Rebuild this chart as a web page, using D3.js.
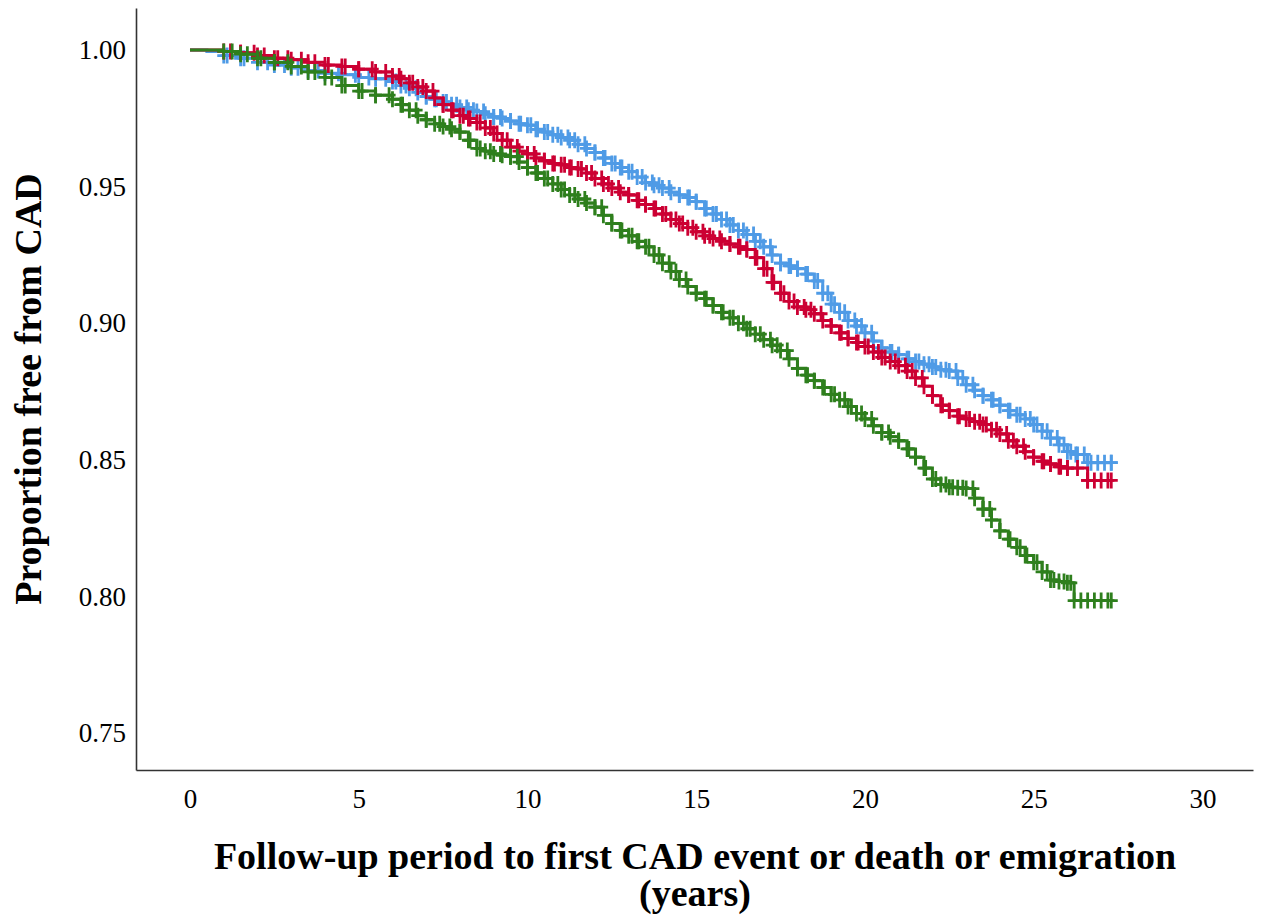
<!DOCTYPE html>
<html>
<head>
<meta charset="utf-8">
<script src="https://cdn.jsdelivr.net/npm/d3@7"></script>
<style>
  body { margin: 0; background: #fff; }
  svg text { font-family: "Liberation Serif", "Times New Roman", serif; fill: #000; }
</style>
</head>
<body>
<div id="chart"></div>
<script>
// survival curves, [years, proportion free from CAD]
var blueCurve = [
  [0, 1.000], [0.5, 0.9995], [1, 0.998], [1.5, 0.997], [2, 0.9955], [2.5, 0.9945], [3, 0.9935],
  [3.5, 0.9925], [4, 0.9915], [4.5, 0.991], [5, 0.990], [5.5, 0.9895],
  [6, 0.9885], [6.25, 0.987], [6.5, 0.986], [6.75, 0.9845], [7, 0.983], [7.25, 0.982], [7.5, 0.981],
  [7.75, 0.980], [8, 0.979], [8.25, 0.978], [8.5, 0.9775], [8.75, 0.9765], [9, 0.9755], [9.25, 0.975],
  [9.5, 0.974], [9.75, 0.973], [10, 0.9725], [10.25, 0.971], [10.5, 0.970], [10.75, 0.969], [11, 0.968],
  [11.25, 0.967], [11.5, 0.9655], [11.75, 0.964], [12, 0.9625], [12.25, 0.9605], [12.5, 0.9585],
  [12.75, 0.957], [13, 0.9555], [13.25, 0.9535], [13.5, 0.9515], [13.75, 0.9505], [14, 0.9495],
  [14.25, 0.948], [14.5, 0.947], [14.75, 0.946], [15, 0.9445], [15.25, 0.942], [15.5, 0.940],
  [15.75, 0.938], [16, 0.936], [16.25, 0.934], [16.5, 0.9325], [16.75, 0.930], [17, 0.928],
  [17.25, 0.925], [17.5, 0.922], [17.75, 0.921], [18, 0.920], [18.25, 0.918], [18.5, 0.9155],
  [18.75, 0.911], [19, 0.907], [19.25, 0.904], [19.5, 0.901], [19.75, 0.899], [20, 0.8965],
  [20.25, 0.8935], [20.5, 0.891], [20.75, 0.8895], [21, 0.8885], [21.25, 0.887], [21.5, 0.886],
  [21.75, 0.885], [22, 0.884], [22.25, 0.883], [22.5, 0.8825], [22.75, 0.880], [23, 0.8775],
  [23.25, 0.8755], [23.5, 0.8735], [23.75, 0.872], [24, 0.870], [24.25, 0.868], [24.5, 0.8665],
  [24.75, 0.865], [25, 0.863], [25.25, 0.8605], [25.5, 0.858], [25.75, 0.8555], [26, 0.853],
  [26.25, 0.852], [26.6, 0.849], [27.3, 0.849]
];
var redCurve = [
  [0, 1.000], [0.5, 1.000], [1, 0.9995], [1.5, 0.999], [2, 0.998], [2.5, 0.997], [3, 0.9965],
  [3.5, 0.9955], [4, 0.9945], [4.5, 0.994], [5, 0.993], [5.5, 0.992],
  [6, 0.9905], [6.25, 0.9895], [6.5, 0.988], [6.75, 0.9865], [7, 0.985], [7.25, 0.9825], [7.5, 0.980],
  [7.75, 0.978], [8, 0.976], [8.25, 0.975], [8.5, 0.9735], [8.75, 0.9715], [9, 0.9695], [9.25, 0.967],
  [9.5, 0.9645], [9.75, 0.963], [10, 0.962], [10.25, 0.9605], [10.5, 0.9595], [10.75, 0.9585],
  [11, 0.958], [11.25, 0.957], [11.5, 0.9565], [11.75, 0.955], [12, 0.953], [12.25, 0.951],
  [12.5, 0.9495], [12.75, 0.948], [13, 0.947], [13.25, 0.945], [13.5, 0.9435], [13.75, 0.942],
  [14, 0.940], [14.25, 0.938], [14.5, 0.9365], [14.75, 0.935], [15, 0.9335], [15.25, 0.932],
  [15.5, 0.931], [15.75, 0.930], [16, 0.929], [16.25, 0.928], [16.5, 0.927], [16.75, 0.924],
  [17, 0.920], [17.25, 0.915], [17.5, 0.911], [17.75, 0.908], [18, 0.906], [18.25, 0.905],
  [18.5, 0.9035], [18.75, 0.901], [19, 0.899], [19.25, 0.8965], [19.5, 0.8945], [19.75, 0.893],
  [20, 0.8915], [20.25, 0.8895], [20.5, 0.8875], [20.75, 0.886], [21, 0.8845], [21.25, 0.8825],
  [21.5, 0.880], [21.75, 0.877], [22, 0.8735], [22.25, 0.870], [22.5, 0.868], [22.75, 0.866],
  [23, 0.865], [23.25, 0.864], [23.5, 0.863], [23.75, 0.861], [24, 0.8595], [24.25, 0.857],
  [24.5, 0.855], [24.75, 0.853], [25, 0.851], [25.25, 0.8495], [25.5, 0.8485], [25.75, 0.8475],
  [26, 0.847], [26.6, 0.8425], [27.3, 0.8425]
];
var greenCurve = [
  [0, 1.000], [0.5, 1.000], [1, 0.9995], [1.5, 0.9985], [2, 0.997], [2.5, 0.9955], [3, 0.994],
  [3.5, 0.992], [4, 0.990], [4.5, 0.987], [5, 0.985], [5.5, 0.9835],
  [6, 0.982], [6.25, 0.980], [6.5, 0.978], [6.75, 0.976], [7, 0.9745], [7.25, 0.973], [7.5, 0.972],
  [7.75, 0.971], [8, 0.970], [8.25, 0.967], [8.5, 0.964], [8.75, 0.963], [9, 0.962], [9.25, 0.9615],
  [9.5, 0.961], [9.75, 0.959], [10, 0.957], [10.25, 0.955], [10.5, 0.953], [10.75, 0.951], [11, 0.949],
  [11.25, 0.947], [11.5, 0.9455], [11.75, 0.944], [12, 0.9425], [12.25, 0.9395], [12.5, 0.9365],
  [12.75, 0.934], [13, 0.932], [13.25, 0.930], [13.5, 0.928], [13.75, 0.925], [14, 0.922],
  [14.25, 0.919], [14.5, 0.916], [14.75, 0.9135], [15, 0.911], [15.25, 0.909], [15.5, 0.9065],
  [15.75, 0.904], [16, 0.902], [16.25, 0.900], [16.5, 0.898], [16.75, 0.896], [17, 0.894],
  [17.25, 0.892], [17.5, 0.890], [17.75, 0.887], [18, 0.8835], [18.25, 0.881], [18.5, 0.879],
  [18.75, 0.8765], [19, 0.874], [19.25, 0.872], [19.5, 0.8695], [19.75, 0.867], [20, 0.865],
  [20.25, 0.8625], [20.5, 0.860], [20.75, 0.8585], [21, 0.857], [21.25, 0.854], [21.5, 0.851],
  [21.75, 0.847], [22, 0.843], [22.25, 0.841], [22.5, 0.840], [22.75, 0.8398], [23, 0.8395],
  [23.25, 0.836], [23.5, 0.832], [23.75, 0.828], [24, 0.824], [24.25, 0.821], [24.5, 0.818],
  [24.75, 0.815], [25, 0.8125], [25.25, 0.809], [25.5, 0.806], [25.75, 0.8055], [26, 0.805],
  [26.2, 0.7985], [27.3, 0.7985]
];

// censored times (the + marks)
var blueCensor = [1.1, 1.6, 2.3, 2.8, 3.2, 3.8, 4.4, 4.9, 5.3, 5.8, 6.1, 6.4, 6.7, 7.0, 7.3, 7.6,
  7.9, 8.2, 8.4, 8.7, 9.0, 9.2, 9.5, 9.8, 10.1, 10.3, 10.6, 10.9, 11.2, 11.4, 11.7, 12.0, 12.3,
  12.6, 12.8, 13.1, 13.4, 13.7, 13.9, 14.2, 14.5, 14.8, 15.0, 15.3, 15.6, 15.9, 16.1, 16.4,
  16.7, 16.9, 17.2, 17.5, 17.8, 18.0, 18.3, 18.6, 18.9, 19.1, 19.4, 19.7, 19.9, 20.2, 20.5,
  20.8, 21.0, 21.3, 21.6, 21.9, 22.1, 22.4, 22.7, 22.9, 23.2, 23.5, 23.8, 24.0, 24.3, 24.6,
  24.9, 25.1, 25.4, 25.7, 25.9, 26.1, 26.3, 26.5, 26.7, 26.9, 27.1, 27.3];
var redCensor = [1.2, 1.5, 1.9, 2.2, 2.6, 2.9, 3.3, 3.7, 4.1, 4.6, 5.0, 5.4, 5.8, 6.2, 6.6, 6.9,
  7.2, 7.5, 7.8, 8.1, 8.3, 8.6, 8.9, 9.1, 9.4, 9.7, 10.0, 10.2, 10.5, 10.8, 11.1, 11.3, 11.6,
  11.9, 12.2, 12.4, 12.7, 13.0, 13.3, 13.5, 13.8, 14.1, 14.4, 14.6, 14.9, 15.2, 15.4, 15.7,
  16.0, 16.3, 16.5, 16.8, 17.1, 17.3, 17.6, 17.9, 18.2, 18.4, 18.7, 19.0, 19.3, 19.5, 19.8,
  20.1, 20.4, 20.6, 20.9, 21.2, 21.4, 21.7, 22.0, 22.3, 22.5, 22.8, 23.1, 23.4, 23.6, 23.9,
  24.2, 24.4, 24.7, 25.0, 25.3, 25.5, 25.8, 26.0, 26.3, 26.6, 26.8, 27.0, 27.2];
var greenCensor = [1.25, 1.7, 2.1, 2.5, 2.9, 3.3, 3.7, 4.2, 4.6, 5.1, 5.5, 5.9, 6.3, 6.7, 7.0,
  7.4, 7.7, 8.0, 8.3, 8.6, 8.9, 9.2, 9.5, 9.7, 10.0, 10.3, 10.6, 10.9, 11.1, 11.4, 11.7, 12.0,
  12.2, 12.5, 12.8, 13.1, 13.3, 13.6, 13.9, 14.2, 14.4, 14.7, 15.0, 15.3, 15.5, 15.8, 16.1,
  16.4, 16.6, 16.9, 17.2, 17.4, 17.7, 18.0, 18.3, 18.5, 18.8, 19.1, 19.4, 19.6, 19.9, 20.2,
  20.5, 20.7, 21.0, 21.3, 21.5, 21.8, 22.1, 22.4, 22.6, 22.9, 23.2, 23.5, 23.7, 24.0, 24.3,
  24.6, 24.8, 25.1, 25.4, 25.6, 25.9, 26.1, 26.4, 26.6, 26.8, 27.0, 27.2];

var xTicks = [0, 5, 10, 15, 20, 25, 30];
var yTicks = [0.75, 0.80, 0.85, 0.90, 0.95, 1.00];

var series = [
  { name: "blue", curve: blueCurve, censor: blueCensor, color: "#4f9be6" },
  { name: "red", curve: redCurve, censor: redCensor, color: "#cc0033" },
  { name: "green", curve: greenCurve, censor: greenCensor, color: "#2e7f1d" }
];

var svgWidth = 1264;
var svgHeight = 920;

var svg = d3.select("#chart")
  .append("svg")
  .attr("width", svgWidth)
  .attr("height", svgHeight);

var xScale = d3.scaleLinear().domain([-1.6, 31.5]).range([136, 1253]);
var yScale = d3.scaleLinear().domain([0.7365, 1.0154]).range([770, 8]);

// axes: only the lines and labels, no tick marks
var xAxis = svg.append("g")
  .attr("transform", "translate(0,770)")
  .call(d3.axisBottom(xScale).tickValues(xTicks).tickSize(0).tickPadding(19).tickSizeOuter(0));
var yAxis = svg.append("g")
  .attr("transform", "translate(136,0)")
  .call(d3.axisLeft(yScale).tickValues(yTicks).tickFormat(d3.format(".2f")).tickSize(0).tickPadding(10).tickSizeOuter(0));

[xAxis, yAxis].forEach(function(ax) {
  ax.selectAll("text").style("font-size", "27px").style("font-family", "Liberation Serif");
  ax.select(".domain").attr("stroke", "#333").attr("stroke-width", 1.6);
});

// step value at time t
function survAt(curve, t) {
  var v = curve[0][1];
  curve.forEach(function(p) { if (p[0] <= t) v = p[1]; });
  return v;
}

var line = d3.line()
  .x(d => xScale(d[0]))
  .y(d => yScale(d[1]))
  .curve(d3.curveStepAfter);

var plot = svg.append("g");

series.forEach(function(s) {
  var g = plot.append("g").attr("class", "km-" + s.name);
  g.append("path")
    .datum(s.curve)
    .attr("fill", "none")
    .attr("stroke", s.color)
    .attr("stroke-width", 3)
    .attr("d", line);

  var marks = s.censor.concat(s.curve.filter(p => p[0] >= 1).map(p => p[0]));
  g.selectAll("path.cens")
    .data(marks)
    .enter()
    .append("path")
    .attr("class", "cens")
    .attr("fill", "none")
    .attr("stroke", s.color)
    .attr("stroke-width", 2.8)
    .attr("d", function(t) {
      var cx = xScale(t), cy = yScale(survAt(s.curve, t));
      return "M" + (cx - 6.5) + "," + cy + "H" + (cx + 6.5) + "M" + cx + "," + (cy - 8) + "V" + (cy + 8);
    });
});

// axis titles
svg.append("text")
  .attr("transform", "translate(41,389) rotate(-90)")
  .attr("text-anchor", "middle")
  .style("font-size", "38px")
  .style("font-weight", "bold")
  .text("Proportion free from CAD");

var xTitle = svg.append("text")
  .attr("text-anchor", "middle")
  .style("font-size", "38px")
  .style("font-weight", "bold");
xTitle.append("tspan")
  .attr("x", 695)
  .attr("y", 869)
  .text("Follow-up period to first CAD event or death or emigration");
xTitle.append("tspan")
  .attr("x", 695)
  .attr("y", 906)
  .text("(years)");
</script>
</body>
</html>
